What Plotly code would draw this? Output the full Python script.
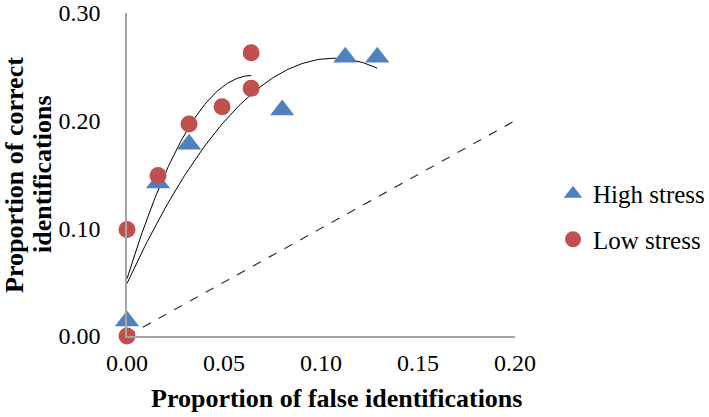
import numpy as np
import plotly.graph_objects as go

# values
high_x = [0.000, 0.016, 0.032, 0.080, 0.1125, 0.129]
high_y = [0.014, 0.142, 0.178, 0.210, 0.259, 0.259]
low_x = [0.000, 0.000, 0.016, 0.032, 0.049, 0.064, 0.064]
low_y = [0.000, 0.099, 0.149, 0.197, 0.213, 0.230, 0.263]
chance_x = [0.0, 0.20]
chance_y = [0.0, 0.20]

BLUE = "#4f81bd"
RED = "#c0504d"
FONT = "Liberation Serif"


def poly_trend(xs, ys):
    # 2nd order polynomial trendline, like Excel
    c = np.polyfit(xs, ys, 2)
    gx = np.linspace(0, max(xs), 100)
    return gx, np.polyval(c, gx)


fig = go.Figure()

# chance line
fig.add_trace(go.Scatter(
    x=chance_x, y=chance_y, mode="lines",
    line=dict(color="#333333", width=1.2, dash="dash"),
    showlegend=False, hoverinfo="skip"
))

# trendlines
for xs, ys in [(low_x, low_y), (high_x, high_y)]:
    tx, ty = poly_trend(xs, ys)
    fig.add_trace(go.Scatter(
        x=tx, y=ty, mode="lines",
        line=dict(color="black", width=1),
        showlegend=False, hoverinfo="skip"
    ))

fig.add_trace(go.Scatter(
    x=high_x, y=high_y, mode="markers", name="High stress",
    marker=dict(symbol="triangle-up", size=21, color=BLUE),
    cliponaxis=False, legendgroup="high"
))
fig.add_trace(go.Scatter(
    x=low_x, y=low_y, mode="markers", name="Low stress",
    marker=dict(symbol="circle", size=17, color=RED),
    cliponaxis=False, legendgroup="low"
))

axis_common = dict(
    showgrid=False, zeroline=False, showline=True, automargin=False,
    linecolor="#a6a6a6", linewidth=1.5, ticks="",
    tickfont=dict(family=FONT, size=24, color="black"),
)
fig.update_xaxes(range=[0, 0.20], tickvals=[0, 0.05, 0.10, 0.15, 0.20],
                 tickformat=".2f", ticklabelstandoff=4, **axis_common)
fig.update_yaxes(range=[0, 0.30], tickvals=[0, 0.10, 0.20, 0.30],
                 tickformat=".2f", ticklabelstandoff=20, **axis_common)

fig.add_annotation(
    text="<b>Proportion of false identifications</b>",
    xref="paper", yref="paper", x=0.541, y=-0.192,
    xanchor="center", yanchor="middle", showarrow=False,
    font=dict(family=FONT, size=26, color="black")
)
# y title, two lines placed separately to get the tight line spacing
for txt, px in [("Proportion of correct", -0.29), ("identifications", -0.218)]:
    fig.add_annotation(
        text=f"<b>{txt}</b>",
        xref="paper", yref="paper", x=px, y=0.5,
        xanchor="center", yanchor="middle", showarrow=False, textangle=-90,
        font=dict(family=FONT, size=26, color="black")
    )

fig.update_layout(
    width=709, height=417,
    margin=dict(l=127, r=194, t=13, b=81, autoexpand=False),
    plot_bgcolor="white", paper_bgcolor="white",
    legend=dict(
        x=1.098, y=0.37, xanchor="left", yanchor="middle",
        font=dict(family=FONT, size=25, color="black"),
        tracegroupgap=10, bgcolor="rgba(0,0,0,0)"
    ),
)

# drop the browser's default body margin so the figure sits at the page corner
fig.write_html("out.html", config={"displayModeBar": False},
               post_script="document.body.style.margin='0';")
